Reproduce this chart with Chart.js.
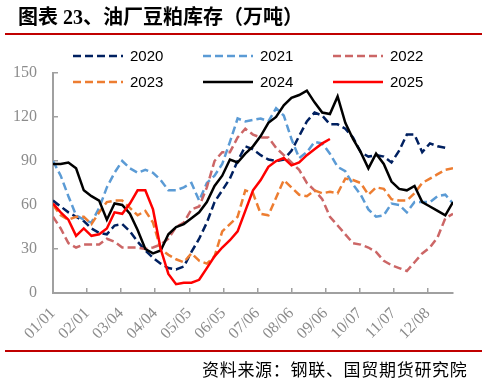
<!DOCTYPE html>
<html><head><meta charset="utf-8">
<script src="https://cdn.jsdelivr.net/npm/chart.js@4"></script>
<style>
html,body{margin:0;padding:0;background:#fff;}
#wrap{position:relative;width:487px;height:384px;overflow:hidden;background:#fff;}
#c{position:absolute;left:0;top:0;}
.title{position:absolute;left:18px;top:5px;font-weight:bold;font-size:20px;font-family:"Liberation Serif","Noto Sans CJK SC",serif;white-space:nowrap;line-height:24px;color:#000;}
.rule{position:absolute;left:5px;width:477px;height:2.5px;background:#C00000;}
.src{position:absolute;left:202px;top:359px;font-size:17px;line-height:20px;letter-spacing:0.7px;font-family:"Noto Sans CJK SC",sans-serif;white-space:nowrap;color:#000;}
</style></head>
<body>
<div id="wrap">
<canvas id="c" width="487" height="384"></canvas>
<div class="title">图表 23、油厂豆粕库存（万吨）</div>
<div class="rule" style="top:32.5px"></div>
<div class="rule" style="top:349.5px"></div>
<div class="src">资料来源：钢联、国贸期货研究院</div>
</div>
<script>
const seriesNames = ['2020','2021','2022','2023','2024','2025'];
const tickDays = [0,31,62,93,124,155,186,217,248,279,310,341];
const tickLabels = ['01/01','02/01','03/04','04/04','05/05','06/05','07/06','08/06','09/06','10/07','11/07','12/08'];
const yTicks = [0,30,60,90,120,150];

const v2020 = [63,59,55,52,49,44,41,40,46,47,42,35,29,24,20,17,16,18,28,37,48,62,70,78,90,100,98,94,91,90,91,97,107,117,123,121,115,115,112,106,96,93,94,93,89,97,108,108,96,102,100,99];
const v2021 = [90,80,66,53,50,48,58,72,82,90,85,82,84,82,77,70,70,72,75,63,75,80,88,103,119,117,118,119,117,126,121,105,92,96,103,102,95,86,83,74,67,57,52,53,61,60,55,62,62,62,66,67,61];
const v2022 = [52,44,34,31,33,33,33,37,35,31,31,31,30,31,33,37,45,48,57,59,72,90,96,96,106,112,108,106,106,99,94,89,84,75,70,64,52,46,40,34,33,31,28,22,19,17,15,21,27,31,38,51,54];
const v2023 = [60,53,50,52,52,47,55,62,63,63,58,53,56,48,30,26,23,21,27,22,20,25,42,47,52,70,68,54,53,65,77,72,67,66,70,68,69,68,78,77,75,67,72,71,64,63,63,68,75,78,81,84,85];
const v2024 = [88,88,89,85,70,66,63,50,61,60,54,43,30,27,29,40,45,47,51,55,62,73,80,91,89,95,100,107,116,120,128,133,135,138,130,123,122,134,116,105,96,85,95,88,76,71,70,73,62,59,56,53,62];
const v2025 = [61,55,50,39,44,39,40,44,55,54,61,70,70,57,30,13,6,7,7,9,17,25,31,36,42,56,70,77,86,90,92,87,89,94,98,102,105];
const allValues = [v2020,v2021,v2022,v2023,v2024,v2025];

const colors = ['#002060','#5B9BD5','#CC6666','#ED7D31','#000000','#FF0000'];
const dashes = [[8,4],[8,4],[8,4],[8,4],[],[]];

const datasets = allValues.map((vals,i)=>({
  label: seriesNames[i],
  data: vals.map((v,k)=>({x:k*7, y:v})),
  borderColor: colors[i],
  backgroundColor: colors[i],
  borderWidth: 2.5,
  borderDash: dashes[i],
  pointRadius: 0,
  tension: 0,
  fill: false,
  order: 5 - i
}));

const legendPlugin = {
  id: 'fixedLegend',
  afterDraw(chart){
    const ctx = chart.ctx;
    chart.data.datasets.forEach((ds,i)=>{
      const col = i % 3, row = Math.floor(i/3);
      const x = 73 + col*130, y = 56 + row*26;
      ctx.save();
      ctx.strokeStyle = ds.borderColor;
      ctx.lineWidth = ds.borderWidth;
      ctx.setLineDash(ds.borderDash || []);
      ctx.beginPath(); ctx.moveTo(x, y); ctx.lineTo(x+50, y); ctx.stroke();
      ctx.setLineDash([]);
      ctx.fillStyle = '#000';
      ctx.font = '15px "Liberation Sans", Arial, sans-serif';
      ctx.textBaseline = 'middle';
      ctx.textAlign = 'left';
      ctx.fillText(ds.label, x+57, y+1);
      ctx.restore();
    });
  }
};

const axisGray = '#a0a0a0';
const labelGray = '#8c8c8c';

new Chart(document.getElementById('c'), {
  type: 'line',
  data: { datasets },
  plugins: [legendPlugin],
  options: {
    responsive: false,
    animation: false,
    layout: { padding: { left: 0, right: 34, top: 73, bottom: 0 } },
    plugins: { legend: { display: false }, tooltip: { enabled: false } },
    scales: {
      x: {
        type: 'linear', min: 0, max: 364,
        afterBuildTicks: s => { s.ticks = tickDays.map(v => ({ value: v })); },
        afterFit: s => { s.height = 91; },
        ticks: {
          autoSkip: false, maxRotation: 45, minRotation: 45,
          color: labelGray, font: { family: 'Liberation Serif', size: 16 }, padding: 16,
          callback: (v) => { const k = tickDays.indexOf(v); return k >= 0 ? tickLabels[k] : ''; }
        },
        grid: { display: true, drawOnChartArea: false, drawTicks: true, tickLength: -5, color: axisGray, lineWidth: 1.5 },
        border: { display: true, color: axisGray, width: 2 }
      },
      y: {
        min: 0, max: 150,
        afterBuildTicks: s => { s.ticks = yTicks.map(v => ({ value: v })); },
        afterFit: s => { s.width = 53; },
        ticks: { color: labelGray, font: { family: 'Liberation Serif', size: 16 }, padding: 21 },
        grid: { display: true, drawOnChartArea: false, drawTicks: true, tickLength: -5, color: axisGray, lineWidth: 1.5 },
        border: { display: true, color: axisGray, width: 2 }
      }
    }
  }
});
</script>
</body></html>
